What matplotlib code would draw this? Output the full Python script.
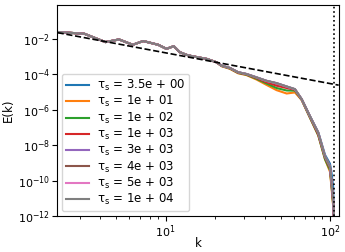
import numpy as np
import matplotlib
matplotlib.use("Agg")
import matplotlib.pyplot as plt

plt.rcParams['font.family'] = ['DejaVu Sans']
plt.rcParams['mathtext.fontset'] = 'dejavusans'
plt.rcParams['mathtext.default'] = 'regular'

# wavenumbers
k = [2.2, 3.2, 4.3, 5.2, 6.3, 7.3, 9.0, 10.1, 11.2, 12.2, 13.4, 14.4, 17.8, 20.4,
     21.9, 24.6, 27.6, 31.0, 35.7, 41.0, 47.3, 54.5, 61.2, 67.3, 75.5, 84.9, 93.3,
     100.0, 102.0, 104.7, 106.0]

common = [-1.62, -1.72, -2.19, -2.04, -2.34, -2.13, -2.34, -2.57, -2.42, -2.76,
          -2.91, -2.98, -3.14, -3.33]

tail_blue   = [-3.52, -3.65, -3.89, -3.99, -4.18, -4.38, -4.52, -4.70, -4.85, -5.41, -6.36, -7.28, -8.55, -9.05, -9.5, -10.4, -13.0]
tail_orange = [-3.55, -3.70, -3.95, -4.05, -4.30, -4.60, -4.90, -5.09, -5.03, -5.46, -6.45, -7.45, -8.80, -9.5, -10.3, -11.5, -13.0]
tail_green  = [-3.54, -3.68, -3.93, -4.03, -4.26, -4.52, -4.78, -4.92, -4.93, -5.45, -6.45, -7.45, -8.80, -9.4, -10.2, -11.4, -13.0]
tail_red    = [-3.53, -3.66, -3.91, -4.01, -4.22, -4.45, -4.65, -4.78, -4.88, -5.43, -6.40, -7.40, -8.70, -9.3, -10.1, -11.3, -13.0]
tail_purple = [-3.52, -3.65, -3.89, -3.99, -4.18, -4.37, -4.51, -4.70, -4.85, -5.42, -6.37, -7.32, -8.65, -9.2, -10.0, -11.2, -13.0]
tail_brown  = [-3.52, -3.65, -3.89, -3.99, -4.19, -4.38, -4.52, -4.71, -4.86, -5.42, -6.38, -7.33, -8.66, -9.25, -10.0, -11.2, -13.0]
tail_pink   = [-3.52, -3.65, -3.89, -3.99, -4.18, -4.38, -4.51, -4.70, -4.85, -5.41, -6.37, -7.31, -8.64, -9.2, -9.98, -11.1, -13.0]
tail_grey   = [-3.52, -3.65, -3.89, -3.99, -4.18, -4.37, -4.50, -4.69, -4.84, -5.41, -6.36, -7.30, -8.63, -9.2, -9.95, -11.1, -12.5]

labels = [r'$\tau_s$ = 3.5e + 00', r'$\tau_s$ = 1e + 01', r'$\tau_s$ = 1e + 02', r'$\tau_s$ = 1e + 03',
          r'$\tau_s$ = 3e + 03', r'$\tau_s$ = 4e + 03', r'$\tau_s$ = 5e + 03', r'$\tau_s$ = 1e + 04']
tails = [tail_blue, tail_orange, tail_green, tail_red, tail_purple, tail_brown, tail_pink, tail_grey]
colors = ['C0', 'C1', 'C2', 'C3', 'C4', 'C5', 'C6', 'C7']

ref_k = [2.2, 113.0]
ref_E = [2.2e-2, 2.4e-5]
k_cut = 106.0

fig = plt.figure(figsize=(3.45, 2.52), dpi=100)
ax = fig.add_axes([57/345, 1 - 216/252, (339-57)/345, (216-5)/252])
for t, lab, c in zip(tails, labels, colors):
    ax.plot(k, 10.0 ** np.array(common + t), color=c, lw=1.5, label=lab)
ax.plot(ref_k, ref_E, 'k--', lw=1.2)
ax.axvline(k_cut, color='k', ls=':', lw=1.2)
ax.set_xscale('log')
ax.set_yscale('log')
ax.set_xlim(2.18, 113.5)
ax.set_ylim(1e-12, 0.8)
ax.set_xlabel('k', fontsize=8.5, labelpad=-2)
ax.set_ylabel('E(k)', fontsize=8.5, labelpad=2)
ax.tick_params(labelsize=8, pad=1.5)
ax.legend(loc='lower left', fontsize=8.5, handlelength=2.0, labelspacing=0.1,
          borderpad=0.35, borderaxespad=0.4, handletextpad=0.6)
fig.savefig('out.png', dpi=100)
